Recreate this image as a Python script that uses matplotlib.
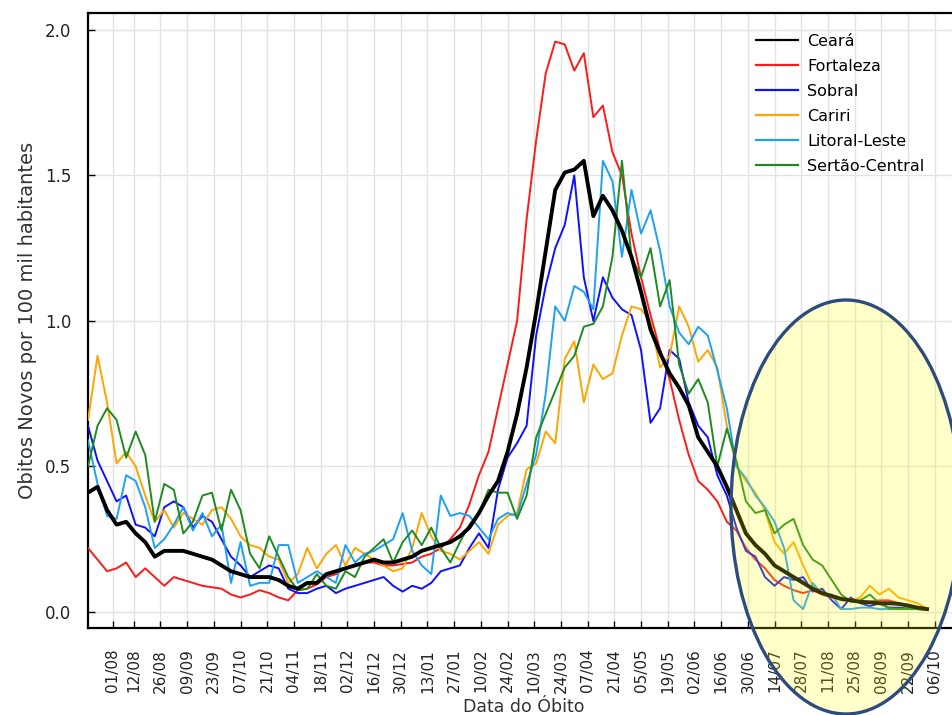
import matplotlib
matplotlib.use("Agg")
import matplotlib.pyplot as plt
from matplotlib.patches import Ellipse
import pandas as pd

# ---- data (values every 5 days, starting 19/07/2020) ----
start_date = "2020-07-19"
n_points = 89

ceara = [0.41, 0.43, 0.35, 0.30, 0.31, 0.27, 0.24, 0.19, 0.21, 0.21, 0.21, 0.20, 0.19, 0.18, 0.16, 0.14,
         0.13, 0.12, 0.12, 0.12, 0.11, 0.09, 0.08, 0.10, 0.10, 0.13, 0.14, 0.15, 0.16, 0.17, 0.18, 0.17,
         0.17, 0.18, 0.19, 0.21, 0.22, 0.23, 0.24, 0.26, 0.29, 0.34, 0.40, 0.45, 0.55, 0.68, 0.84, 1.03,
         1.24, 1.45, 1.51, 1.52, 1.55, 1.36, 1.43, 1.38, 1.31, 1.22, 1.10, 0.97, 0.89, 0.82, 0.77, 0.71,
         0.60, 0.55, 0.50, 0.43, 0.35, 0.27, 0.23, 0.20, 0.16, 0.14, 0.12, 0.10, 0.08, 0.065, 0.055, 0.045,
         0.04, 0.035, 0.033, 0.03, 0.03, 0.028, 0.022, 0.015, 0.01]

fortaleza = [0.22, 0.18, 0.14, 0.15, 0.17, 0.12, 0.15, 0.12, 0.09, 0.12, 0.11, 0.10, 0.09, 0.085, 0.08, 0.06,
             0.05, 0.06, 0.075, 0.065, 0.05, 0.04, 0.075, 0.08, 0.095, 0.12, 0.13, 0.15, 0.16, 0.17, 0.17, 0.16,
             0.16, 0.165, 0.17, 0.19, 0.20, 0.22, 0.25, 0.29, 0.37, 0.47, 0.55, 0.70, 0.85, 1.00, 1.35, 1.62,
             1.85, 1.96, 1.95, 1.86, 1.92, 1.70, 1.74, 1.58, 1.50, 1.30, 1.15, 1.02, 0.90, 0.80, 0.66, 0.54,
             0.45, 0.42, 0.38, 0.31, 0.28, 0.22, 0.18, 0.15, 0.11, 0.09, 0.075, 0.065, 0.075, 0.06, 0.05, 0.045,
             0.04, 0.035, 0.035, 0.04, 0.04, 0.03, 0.02, 0.015, 0.01]

sobral = [0.64, 0.52, 0.45, 0.38, 0.40, 0.30, 0.29, 0.26, 0.36, 0.38, 0.36, 0.29, 0.33, 0.31, 0.25, 0.19,
          0.16, 0.12, 0.14, 0.16, 0.15, 0.08, 0.065, 0.065, 0.08, 0.09, 0.065, 0.08, 0.09, 0.10, 0.11, 0.12,
          0.09, 0.07, 0.09, 0.08, 0.10, 0.14, 0.15, 0.16, 0.22, 0.27, 0.22, 0.42, 0.53, 0.58, 0.64, 0.95,
          1.12, 1.25, 1.33, 1.50, 1.15, 1.00, 1.15, 1.08, 1.04, 1.02, 0.90, 0.65, 0.70, 0.90, 0.87, 0.72,
          0.64, 0.60, 0.47, 0.40, 0.29, 0.21, 0.19, 0.12, 0.09, 0.12, 0.11, 0.12, 0.07, 0.08, 0.04, 0.01,
          0.05, 0.03, 0.02, 0.03, 0.015, 0.015, 0.012, 0.01, 0.008]

cariri = [0.66, 0.88, 0.72, 0.51, 0.55, 0.50, 0.40, 0.31, 0.35, 0.29, 0.34, 0.32, 0.30, 0.35, 0.36, 0.32,
          0.26, 0.23, 0.22, 0.19, 0.18, 0.10, 0.13, 0.22, 0.15, 0.20, 0.23, 0.16, 0.22, 0.20, 0.18, 0.16,
          0.14, 0.15, 0.22, 0.34, 0.26, 0.21, 0.20, 0.18, 0.21, 0.24, 0.20, 0.30, 0.33, 0.34, 0.49, 0.51,
          0.62, 0.58, 0.87, 0.93, 0.72, 0.85, 0.80, 0.82, 0.95, 1.05, 1.04, 1.00, 0.84, 0.88, 1.05, 0.98,
          0.86, 0.90, 0.84, 0.64, 0.50, 0.45, 0.41, 0.35, 0.24, 0.20, 0.24, 0.16, 0.09, 0.07, 0.05, 0.04,
          0.04, 0.05, 0.09, 0.06, 0.08, 0.05, 0.04, 0.03, 0.012]

litoral_leste = [0.59, 0.44, 0.33, 0.32, 0.47, 0.45, 0.36, 0.22, 0.25, 0.30, 0.36, 0.28, 0.34, 0.26, 0.30, 0.10,
                 0.24, 0.09, 0.10, 0.10, 0.23, 0.23, 0.10, 0.12, 0.14, 0.12, 0.10, 0.23, 0.17, 0.20, 0.21, 0.23,
                 0.25, 0.34, 0.21, 0.16, 0.13, 0.40, 0.33, 0.34, 0.33, 0.29, 0.25, 0.32, 0.34, 0.33, 0.44, 0.54,
                 0.75, 1.05, 1.00, 1.12, 1.10, 1.04, 1.55, 1.48, 1.22, 1.45, 1.30, 1.38, 1.24, 1.05, 0.96, 0.92,
                 0.98, 0.95, 0.83, 0.70, 0.50, 0.46, 0.40, 0.36, 0.31, 0.22, 0.04, 0.01, 0.10, 0.06, 0.06, 0.01,
                 0.01, 0.015, 0.015, 0.01, 0.01, 0.01, 0.01, 0.01, 0.008]

sertao_central = [0.50, 0.64, 0.70, 0.66, 0.53, 0.62, 0.54, 0.31, 0.44, 0.42, 0.27, 0.31, 0.40, 0.41, 0.28, 0.42,
                  0.35, 0.20, 0.15, 0.26, 0.19, 0.12, 0.075, 0.08, 0.13, 0.09, 0.08, 0.14, 0.12, 0.19, 0.22, 0.25,
                  0.17, 0.24, 0.28, 0.23, 0.29, 0.22, 0.17, 0.24, 0.30, 0.34, 0.42, 0.41, 0.41, 0.32, 0.40, 0.60,
                  0.68, 0.76, 0.84, 0.88, 0.98, 0.99, 1.05, 1.22, 1.55, 1.22, 1.15, 1.25, 1.05, 1.14, 0.85, 0.75,
                  0.80, 0.72, 0.50, 0.63, 0.52, 0.38, 0.34, 0.35, 0.27, 0.30, 0.32, 0.23, 0.18, 0.16, 0.11, 0.06,
                  0.035, 0.04, 0.06, 0.03, 0.012, 0.01, 0.01, 0.01, 0.008]

series_names = ["Ceará", "Fortaleza", "Sobral", "Cariri", "Litoral-Leste", "Sertão-Central"]
series_colors = ["black", "#ff1a1a", "#1010ff", "#ffa500", "#1ea0f5", "#1f8a1f"]

tick_dates = ["2020-08-01", "2020-08-12", "2020-08-26", "2020-09-09", "2020-09-23", "2020-10-07",
              "2020-10-21", "2020-11-04", "2020-11-18", "2020-12-02", "2020-12-16", "2020-12-30",
              "2021-01-13", "2021-01-27", "2021-02-10", "2021-02-24", "2021-03-10", "2021-03-24",
              "2021-04-07", "2021-04-21", "2021-05-05", "2021-05-19", "2021-06-02", "2021-06-16",
              "2021-06-30", "2021-07-14", "2021-07-28", "2021-08-11", "2021-08-25", "2021-09-08",
              "2021-09-22", "2021-10-06"]

# ---- figure ----
dates = pd.date_range(start_date, periods=n_points, freq="5D")
W, H = 952, 715
fig = plt.figure(figsize=(W / 100, H / 100), dpi=100)
ax_left, ax_right, ax_top, ax_bottom = 88, 960, 13, 628
ax = fig.add_axes([ax_left / W, 1 - ax_bottom / H, (ax_right - ax_left) / W, (ax_bottom - ax_top) / H])

all_series = [ceara, fortaleza, sobral, cariri, litoral_leste, sertao_central]
handles = []
for name, vals, col in zip(series_names, all_series, series_colors):
    lw = 2.8 if name == "Ceará" else 1.4
    z = 4 if name == "Ceará" else 3
    ax.plot(dates, vals, color=col, lw=lw, zorder=z, label=name)
    handles.append(plt.Line2D([], [], color=col, lw=1.6))

px_per_day = 1.907
x0 = pd.Timestamp(start_date)
ax.set_xlim(x0, x0 + pd.Timedelta(days=(ax_right - ax_left) / px_per_day))
ax.set_ylim(-0.055, 2.058)

tdates = pd.to_datetime(tick_dates)
ax.set_xticks(tdates)
ax.set_xticklabels([d.strftime("%d/%m") for d in tdates], rotation=90, fontsize=11, color="#222222")
ax.set_yticks([0.0, 0.5, 1.0, 1.5, 2.0])
ax.set_yticklabels(["0.0", "0.5", "1.0", "1.5", "2.0"], fontsize=12, color="#222222")
ax.tick_params(axis="x", direction="in", length=5, width=1, pad=15)
ax.tick_params(axis="y", direction="in", length=5, width=1, pad=12)
ax.grid(True, color="#e3e3e3", lw=1)
ax.set_axisbelow(True)
for sp in ax.spines.values():
    sp.set_linewidth(1.6)

ax.set_xlabel("Data do Óbito", fontsize=12.5, color="#333333", labelpad=4)
ax.set_ylabel("Obitos Novos por 100 mil habitantes", fontsize=14, color="#333333", labelpad=6)

fig.legend(handles, series_names, loc="upper left", bbox_to_anchor=(756 / W, 1 - 34 / H),
           bbox_transform=fig.transFigure, frameon=False, fontsize=11.5,
           handlelength=2.6, handletextpad=0.6, labelspacing=0.62, borderaxespad=0, borderpad=0)

ell = Ellipse((846 / W, 1 - 507 / H), width=230 / W, height=414 / H, transform=fig.transFigure,
              facecolor=(1.0, 1.0, 0.0, 0.21), edgecolor="#2d4b7d", lw=2.4, zorder=10)
fig.add_artist(ell)

fig.savefig("out.png", dpi=100)
